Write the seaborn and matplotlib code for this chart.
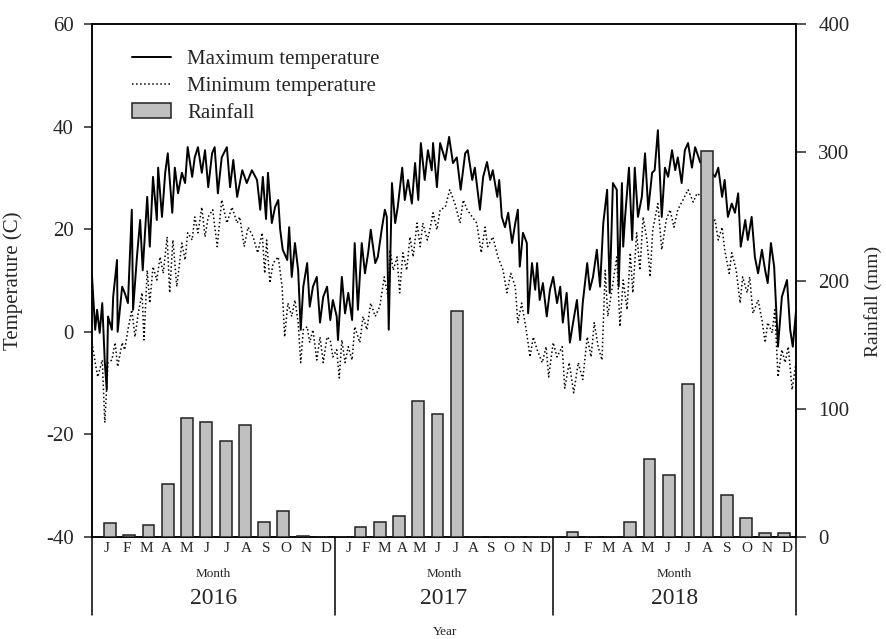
import matplotlib
matplotlib.use('Agg')
import matplotlib.pyplot as plt
import seaborn as sns
import pandas as pd

# daily-ish temperature readings, day 0 = 1 Jan 2016
tmax_day = [0, 5, 8, 12, 16, 20, 23, 25, 31, 33,
            39, 40, 47, 51, 56, 62, 64, 70, 75, 79,
            86, 90, 95, 101, 103, 109, 114, 118, 125, 129,
            134, 140, 145, 149, 156, 160, 165, 171, 176, 181,
            187, 191, 196, 202, 210, 215, 220, 226, 234, 241,
            249, 257, 262, 266, 271, 274, 280, 285, 290, 293,
            297, 304, 307, 311, 316, 321, 325, 329, 335, 339,
            344, 350, 355, 360, 366, 371, 375, 381, 383, 389,
            394, 399, 405, 409, 414, 420, 425, 430, 434, 441,
            445, 451, 456, 459, 462, 467, 472, 476, 483, 487,
            492, 498, 503, 508, 512, 518, 523, 529, 531, 537,
            542, 550, 556, 562, 568, 574, 581, 585, 592, 596,
            604, 609, 615, 620, 624, 631, 634, 638, 643, 648,
            654, 659, 663, 666, 671, 677, 679, 685, 690, 693,
            697, 702, 708, 713, 718, 724, 729, 733, 739, 744,
            749, 755, 760, 764, 771, 775, 780, 786, 791, 796,
            802, 806, 811, 817, 820, 825, 827, 830, 836, 841,
            845, 850, 856, 861, 866, 872, 876, 881, 887, 892,
            897, 903, 908, 912, 918, 923, 928, 934, 939, 947,
            954, 962, 965, 970, 975, 981, 985, 990, 996, 1001,
            1006, 1010, 1017, 1021, 1027, 1032, 1037, 1043, 1048, 1052,
            1057, 1062, 1068, 1074, 1082, 1087, 1091, 1096]
tmax_c = [11, 0.4, 4.3, -0.2, 5.6, -6, -11.3, 3, 0.4, 6.8,
          14, 0, 8.8, 7.6, 5.6, 23.8, 4.3, 14.6, 21.8, 12,
          26.3, 16.6, 30.2, 21.8, 32, 22.4, 31, 34.8, 23.2, 32,
          27, 31, 29, 36, 30.2, 34, 36, 31, 35.4, 28.2,
          34.8, 36, 27, 34, 36, 28.2, 33.5, 26.3, 31.5, 29,
          31.5, 29.6, 23.8, 30.2, 22, 31, 21.2, 24.3, 25.7, 19.9,
          16, 14, 20.4, 10.7, 17.3, 12, 0.4, 8.8, 13.4, 4.9,
          8.8, 10.7, 1.8, 6.8, 8.8, 2.3, 6.2, 3, -1.6, 10.7,
          3.6, 7.6, 2.3, 17.3, 4.3, 17.3, 11.4, 15.4, 19.9, 13.4,
          14.6, 19.9, 23.8, 22.4, 0.4, 29, 21.2, 24.3, 32, 25.7,
          29.6, 25, 32.9, 25.7, 36.8, 29.6, 35.4, 31.5, 36.8, 28.2,
          36.8, 33.5, 38, 32.9, 34, 27.7, 34.8, 35.4, 29.6, 32,
          23.8, 30.2, 33.1, 29.6, 31.5, 26.3, 29.6, 22.4, 20.4, 23.2,
          17.3, 21.2, 23.8, 12.7, 19.3, 17.3, 3.6, 13.4, 8.2, 13.4,
          6.2, 9.5, 3, 8.2, 10.7, 5.6, 8.8, 1.8, 7.6, -2.1,
          1.8, 6.2, -1.6, 5.6, 13.4, 8.2, 10.7, 16, 8.8, 21.2,
          27.7, 7.6, 29, 27.7, 8.8, 29, 16.6, 22.4, 32, 17.9,
          32, 22.4, 26.3, 34.8, 23.8, 31, 31.5, 39.3, 22.4, 32,
          30.2, 35.4, 31.5, 34, 29, 35.4, 36.8, 32, 36, 33,
          34, 32, 31, 30.2, 32, 26.3, 29.6, 22.4, 25, 23.2,
          27, 16.6, 21.8, 17.9, 22.4, 14.6, 11.4, 16, 12, 9.5,
          17.3, 12.7, -2.9, 6.8, 10.1, 0.4, -2.9, 4]

tmin_day = [0, 5, 9, 16, 20, 25, 31, 36, 40, 47,
            51, 56, 62, 67, 72, 78, 81, 86, 90, 95,
            101, 106, 111, 117, 121, 126, 132, 140, 145, 149,
            156, 160, 165, 171, 176, 181, 188, 195, 202, 210,
            218, 226, 230, 237, 243, 251, 258, 265, 269, 272,
            277, 282, 290, 296, 300, 305, 311, 316, 321, 325,
            329, 335, 339, 344, 350, 355, 360, 366, 371, 375,
            381, 385, 389, 394, 399, 405, 409, 417, 422, 428,
            434, 441, 448, 455, 461, 464, 469, 475, 479, 484,
            490, 495, 500, 506, 511, 515, 522, 526, 531, 537,
            542, 550, 557, 565, 573, 578, 584, 592, 599, 606,
            612, 616, 624, 632, 640, 646, 652, 659, 663, 669,
            676, 682, 687, 693, 701, 707, 711, 718, 724, 732,
            736, 743, 750, 757, 764, 771, 777, 782, 788, 794,
            799, 803, 811, 817, 822, 827, 833, 838, 842, 848,
            853, 858, 864, 869, 873, 881, 887, 894, 900, 906,
            912, 920, 928, 936, 942, 953, 965, 970, 975, 981,
            985, 992, 996, 1003, 1009, 1013, 1020, 1024, 1029, 1037,
            1043, 1048, 1052, 1059, 1063, 1068, 1074, 1079, 1084, 1090,
            1096]
tmin_c = [-2.1, -6, -8.8, -5.5, -17.7, -6, -5.5, -2.1, -6.8, -2.1,
          -3.5, 0.4, 4.3, -1, 3.6, 7.6, -1.6, 12, 5.6, 12.7,
          10.1, 14.6, 11.4, 18.5, 7.6, 17.9, 8.8, 17.3, 14, 19.3,
          17.9, 22.4, 19.3, 24.3, 18.5, 22.4, 23.8, 16.6, 25.7, 21.2,
          24.3, 21.2, 22.4, 16.6, 20.4, 18.5, 15.4, 19.3, 11.4, 17.9,
          9.5, 13.4, 14.6, 8.8, -1, 5.6, 3, 6.2, 1.8, -6,
          0.4, 1, -2.1, 0.4, -5.5, -1, -6, -1, -1.6, -4.9,
          -3.5, -9, -1.6, -6, -2.9, -5.5, 1, -2.1, 3, 0.4,
          5.6, 3, 4.9, 10.7, 6.8, 16, 12, 14.6, 7.6, 15.4,
          12, 18.5, 14.6, 21.2, 16.6, 21.2, 17.9, 19.9, 23.2, 19.9,
          23.8, 24.3, 27.7, 25, 21.2, 25.7, 23.8, 22.4, 21.2, 15.4,
          20.4, 16.6, 18.5, 14.6, 12, 7.6, 11.4, 8.8, 1.8, 5.6,
          0.4, -4.9, -1, -3.5, -6, -2.9, -8.8, -2.1, -4.9, -2.9,
          -11, -6, -11.9, -6, -9.3, -1, -4.9, 1.8, -2.9, -5.5,
          12, 3, 9.5, 14.6, 1, 10.1, 4.3, 15.4, 7.6, 19.3,
          12, 22.4, 17.9, 10.7, 19.9, 25, 16, 21.8, 23.8, 20.4,
          23.8, 25.7, 27.7, 25.3, 27, 26, 21.2, 21.8, 17.9, 20.4,
          16, 11.4, 15.4, 12, 5.6, 10.7, 7.6, 10.7, 3.6, 6.2,
          2.3, -2.1, 1.8, -0.2, 4.3, -8.8, -3.5, -6, -2.9, -11.3,
          -6]

# monthly rainfall (mm), Jan 2016 .. Dec 2018
rain_mm = [11, 1.5, 9, 41, 93, 90, 75, 87, 12, 20, 0.5, 0,
           0, 8, 12, 16, 106, 96, 176, 0, 0, 0, 0, 0,
           4, 0, 0, 12, 61, 48, 119, 301, 33, 15, 3, 3]

month_letters = ['J', 'F', 'M', 'A', 'M', 'J', 'J', 'A', 'S', 'O', 'N', 'D']
years = ['2016', '2017', '2018']

sns.set_style('white')
plt.rcParams['font.family'] = ['Liberation Serif', 'DejaVu Serif']
plt.rcParams['axes.unicode_minus'] = False

df_max = pd.DataFrame({'day': tmax_day, 'temp': tmax_c})
df_min = pd.DataFrame({'day': tmin_day, 'temp': tmin_c})

fig = plt.figure(figsize=(8.86, 6.39), dpi=100)
ax = fig.add_axes([0.1038, 0.1596, 0.7946, 0.8028])

sns.lineplot(data=df_max, x='day', y='temp', ax=ax, color='black', linewidth=1.4,
             label='Maximum temperature', legend=False)
sns.lineplot(data=df_min, x='day', y='temp', ax=ax, color='black', linewidth=1.1,
             linestyle=':', label='Minimum temperature', legend=False)

ax.set_xlim(0, 1096)
ax.set_ylim(-40, 60)
ax.set_yticks(range(-40, 61, 20))
ax.set_xticks([])
ax.set_xlabel('')
ax.set_ylabel('Temperature (C)', fontsize=15)
ax.yaxis.set_label_coords(-0.098, 0.5)
ax.tick_params(axis='y', direction='out', length=6, width=1.1, labelsize=15, pad=7, left=True)

ax2 = ax.twinx()
# bars sit roughly every 30 days, starting near the end of Jan 2016
bar_x = [28 + 30.0 * i for i in range(len(rain_mm))]
bars = ax2.bar(bar_x, rain_mm, width=18.5, color='#c0c0c0', edgecolor='#222222',
               linewidth=1.1, label='Rainfall', zorder=3)
ax2.set_ylim(0, 400)
ax2.set_yticks(range(0, 401, 100))
ax2.set_ylabel('Rainfall (mm)', fontsize=14, rotation=90, va='center', ha='center')
ax2.yaxis.set_label_coords(1.11, 0.46)
ax2.tick_params(axis='y', direction='out', length=7, width=1.1, labelsize=15, pad=9, right=True)
ax2.set_xlim(0, 1096)

for a in (ax, ax2):
    for s in a.spines.values():
        s.set_color('black')
        s.set_linewidth(1.1)

# legend
h1, l1 = ax.get_legend_handles_labels()
ax2.legend(h1 + [bars], l1 + ['Rainfall'], loc='upper left', bbox_to_anchor=(0.03, 0.987),
           frameon=False, fontsize=15, handlelength=1.9, handletextpad=0.75, labelspacing=0.35)

# month / year block underneath
edges = [0, 0.345, 0.655, 1.0]
for e in edges:
    ax.plot([e, e], [0, -0.152], transform=ax.transAxes, color='black', lw=1.1, clip_on=False)
for b, yr in enumerate(years):
    left, right = edges[b], edges[b + 1]
    step = (right - left) / 12.2
    for k, m in enumerate(month_letters):
        ax.text(left + (k + 0.75) * step, -0.022, m, transform=ax.transAxes,
                ha='center', va='center', fontsize=11)
    mid = (left + right) / 2
    ax.text(mid, -0.073, 'Month', transform=ax.transAxes, ha='center', va='center', fontsize=9.5)
    ax.text(mid, -0.12, yr, transform=ax.transAxes, ha='center', va='center', fontsize=17)
ax.text(0.501, -0.185, 'Year', transform=ax.transAxes, ha='center', va='center', fontsize=9.5)

fig.savefig('out.png', dpi=100)
